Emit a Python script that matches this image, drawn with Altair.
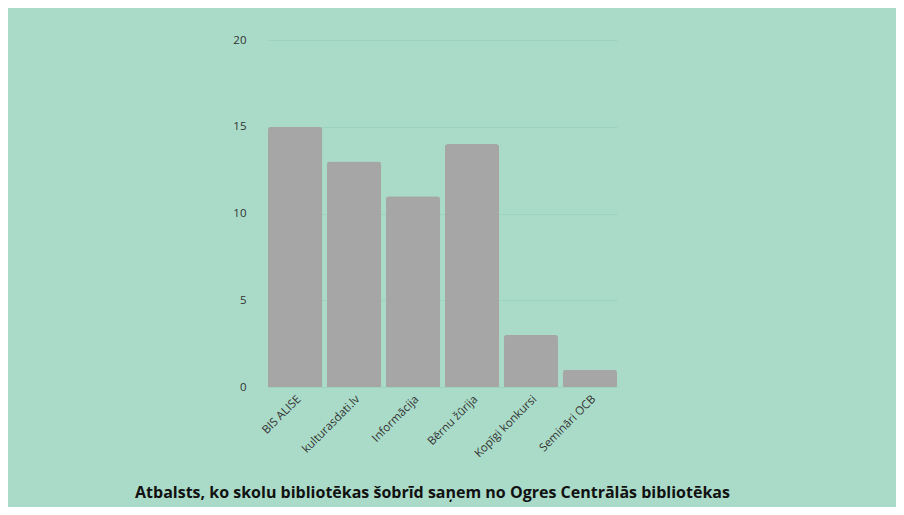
import altair as alt
import pandas as pd

categories = ["BIS ALISE", "kulturasdati.lv", "Informācija", "Bērnu žūrija", "Kopīgi konkursi", "Semināri OCB"]
values = [15, 13, 11, 14, 3, 1]
y_ticks = [0, 5, 10, 15, 20]
title_text = "Atbalsts, ko skolu bibliotēkas šobrīd saņem no Ogres Centrālās bibliotēkas"

df = pd.DataFrame({"cat": categories, "val": values})

bg = "#aadbc8"
font = "Open Sans"

chart = alt.Chart(df).mark_bar(
    color="#a6a6a6", cornerRadiusTopLeft=3, cornerRadiusTopRight=3
).encode(
    x=alt.X("cat:N", sort=categories, title=None,
            scale=alt.Scale(paddingInner=0.08, paddingOuter=0.0),
            axis=alt.Axis(labelAngle=-45, labelFontSize=11.5, labelColor="#333333",
                          labelFont=font, domain=False, ticks=False, labelPadding=6)),
    y=alt.Y("val:Q", title=None,
            scale=alt.Scale(domain=[0, 20]),
            axis=alt.Axis(values=y_ticks, labelFontSize=11.5, labelColor="#333333",
                          labelFont=font, domain=False, ticks=False, labelPadding=22,
                          gridColor="#9dd2be", gridWidth=1)),
).properties(
    width=349, height=347,
    background=bg,
    autosize=alt.AutoSizeParams(type="none"),
    padding={"left": 260, "top": 32, "right": 279, "bottom": 120},
    title=alt.TitleParams(title_text, orient="bottom", anchor="middle", font=font,
                          fontSize=16, fontWeight="bold", color="#111111", offset=26, dx=-10),
).configure_view(stroke=None)

chart.save("out.html", embed_options={"renderer": "svg", "actions": False})
